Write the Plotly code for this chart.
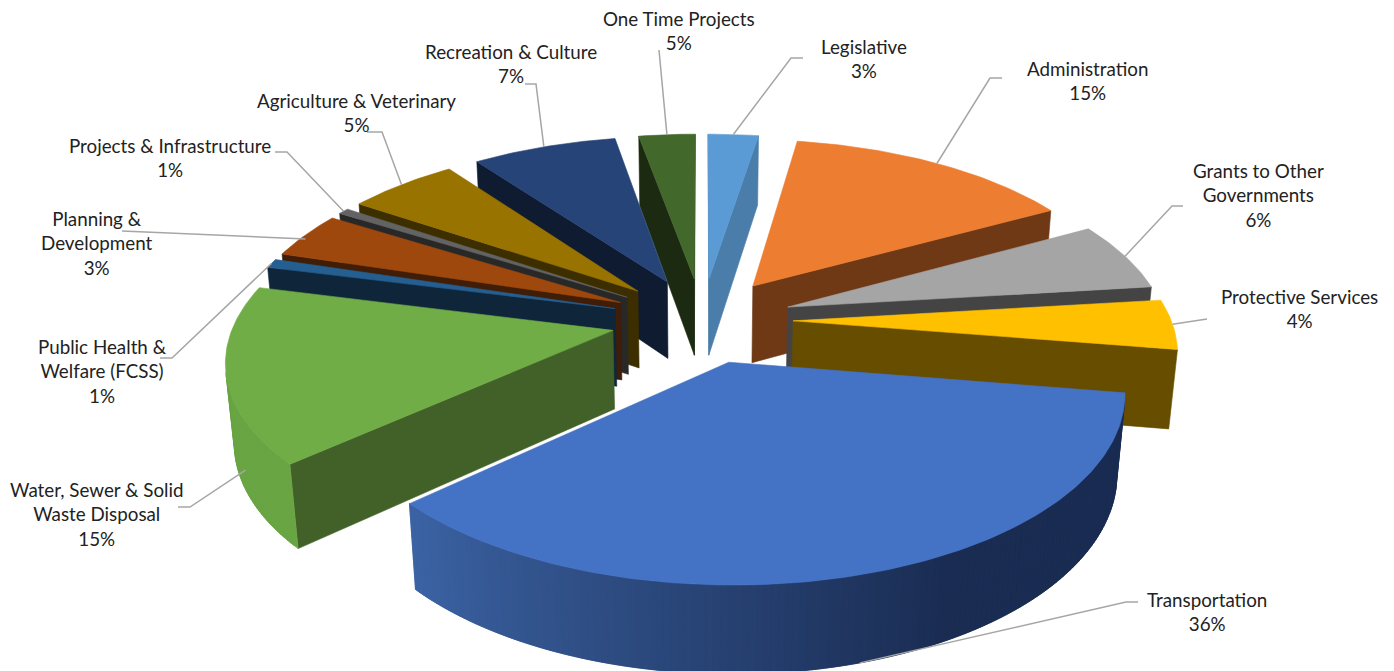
import numpy as np
import plotly.graph_objects as go

# clockwise from 12 o'clock
categories = ['Legislative', 'Administration', 'Grants to Other<br>Governments', 'Protective Services',
              'Transportation', 'Water, Sewer & Solid<br>Waste Disposal', 'Public Health &<br>Welfare (FCSS)',
              'Planning &<br>Development', 'Projects & Infrastructure', 'Agriculture & Veterinary',
              'Recreation & Culture', 'One Time Projects']
# the printed labels
percent_labels = [3, 15, 6, 4, 36, 15, 1, 3, 1, 5, 7, 5]
# slice sizes as drawn (they differ a bit from the printed labels)
slice_shares = [2.5, 14.4, 6.1, 4.4, 35.6, 15.6, 0.8, 4.1, 0.55, 5.5, 7.2, 2.8]

top_colors = ['#5B9BD5', '#ED7D31', '#A5A5A5', '#FFC000', '#4472C4', '#70AD47',
              '#255E91', '#9E480E', '#636363', '#997300', '#264478', '#43682B']
side_colors = ['#4A7DAA', '#6F3916', '#444444', '#664D00', '#1A2C52', '#426128',
               '#0F263A', '#3F1D06', '#282828', '#3D2E00', '#0F1B30', '#1B2A11']
wall_start = ['#4A7DAA', '#6F3916', '#6A6A6A', '#A67D00', '#1A2C52', '#6AA544',
              '#1B4570', '#6B300A', '#404040', '#665000', '#182C50', '#2C441C']
wall_end = ['#4A7DAA', '#6F3916', '#6A6A6A', '#A67D00', '#3C64A5', '#5E9A3C',
            '#1B4570', '#6B300A', '#404040', '#665000', '#182C50', '#2C441C']

# label block centres
label_x = [864, 1087, 1258, 1299, 1207, 97, 102, 97, 170, 356, 511, 679]
label_y = [58.5, 80.5, 195, 308.5, 611.5, 514, 371, 243, 157.5, 112.5, 63.5, 30.5]

# leader lines, from the slice out to the label
leader_pos = [0.5, 0.5, 0.5, 0.5, 0.5, 0.3, 0.5, 0.5, 0.5, 0.5, 0.5, 0.5]
leader_z = [0, 0, 0, 0, 1, 0.7, 0, 0.05, 0, 0, 0, 0]
leader_x = [[791, 803], [990, 1002], [1172, 1183], [1207], [1126, 1138], [190, 178],
            [172, 160], [122], [287, 275], [382, 367], [536, 525], [659]]
leader_y = [[58, 58], [78, 78], [206, 206], [319], [602, 602], [507, 507],
            [358, 358], [231], [152, 152], [132, 132], [84, 84], [50]]

# camera and pie geometry, in pixels
CX, CY = 702, 320
RADIUS = 378
PULL = 91
HEIGHT = 90
TILT = np.radians(27.9)
DIST = 2300
FONT = 'Lato'


def project(x, y, z):
    w = y * np.cos(TILT) - z * np.sin(TILT)
    s = DIST / (DIST + w)
    return CX + s * x, CY - s * (y * np.sin(TILT) + z * np.cos(TILT))


def polar(theta, r, apex, z):
    return project(apex[0] + r * np.sin(theta), apex[1] + r * np.cos(theta), z)


def area(xs, ys):
    xs, ys = np.asarray(xs), np.asarray(ys)
    return 0.5 * np.sum(xs * np.roll(ys, -1) - np.roll(xs, -1) * ys)


def mix(c1, c2, t):
    a = [int(c1[i:i + 2], 16) for i in (1, 3, 5)]
    b = [int(c2[i:i + 2], 16) for i in (1, 3, 5)]
    return 'rgb(%d,%d,%d)' % tuple(p + (q - p) * t for p, q in zip(a, b))


def add_poly(fig, xs, ys, color):
    fig.add_trace(go.Scatter(x=list(xs) + [xs[0]], y=list(ys) + [ys[0]], mode='lines', fill='toself',
                             fillcolor=color, line=dict(color=color, width=0.6), hoverinfo='skip'))


fig = go.Figure()

fractions = np.cumsum([0] + slice_shares) / sum(slice_shares)
starts = fractions[:-1] * 2 * np.pi
ends = fractions[1:] * 2 * np.pi
mids = (starts + ends) / 2
apexes = [(PULL * np.sin(m), PULL * np.cos(m)) for m in mids]

# back slices first
order = np.argsort([-np.cos(m) for m in mids])

for i in order:
    a0, a1, apex = starts[i], ends[i], apexes[i]
    thetas = np.linspace(a0, a1, max(int(slice_shares[i] * 4), 4) + 1)
    ax, ay = project(apex[0], apex[1], 0)
    bx, by = project(apex[0], apex[1], -HEIGHT)

    # the two cut faces, only when they face the camera
    for theta, sign in ((a0, 1), (a1, -1)):
        ox, oy = polar(theta, RADIUS, apex, 0)
        px, py = polar(theta, RADIUS, apex, -HEIGHT)
        xs, ys = [ax, ox, px, bx], [ay, oy, py, by]
        if sign * area(xs, ys) < 0:
            add_poly(fig, xs, ys, side_colors[i])

    # rim wall split in strips for the shading, each strip runs under the next so no seams show
    n = len(thetas) - 1
    for k in range(n):
        arc = np.linspace(thetas[k], thetas[min(k + 2, n)], 5)
        ux, uy = polar(arc, RADIUS, apex, 0)
        lx, ly = polar(arc[::-1], RADIUS, apex, -HEIGHT)
        xs, ys = list(ux) + list(lx), list(uy) + list(ly)
        if area(xs, ys) < 0:
            t = max(0.0, (k / n - 0.4) / 0.6)
            add_poly(fig, xs, ys, mix(wall_start[i], wall_end[i], t))

    # top face
    rx, ry = polar(thetas, RADIUS, apex, 0)
    add_poly(fig, [ax] + list(rx), [ay] + list(ry), top_colors[i])

annotations = []
for i, cat in enumerate(categories):
    # leader line starts on the rim of the slice
    angle = starts[i] + leader_pos[i] * (ends[i] - starts[i])
    sx, sy = polar(angle, RADIUS, apexes[i], -HEIGHT * leader_z[i])
    fig.add_trace(go.Scatter(x=[sx] + leader_x[i], y=[sy] + leader_y[i], mode='lines',
                             line=dict(color='#A6A6A6', width=1.5), hoverinfo='skip'))
    annotations.append(dict(x=label_x[i], y=label_y[i], xref='x', yref='y', showarrow=False,
                            text='%s<br>%d%%' % (cat, percent_labels[i]), align='center',
                            xanchor='center', yanchor='middle',
                            font=dict(family=FONT, size=18.8, color='#222222')))

fig.update_layout(
    width=1394, height=671, margin=dict(l=0, r=0, t=0, b=0),
    paper_bgcolor='white', plot_bgcolor='white', showlegend=False,
    xaxis=dict(range=[0, 1394], visible=False),
    yaxis=dict(range=[671, 0], visible=False),
    annotations=annotations,
)
fig.write_html("out.html", config=dict(displayModeBar=False), post_script="document.body.style.margin='0'")
